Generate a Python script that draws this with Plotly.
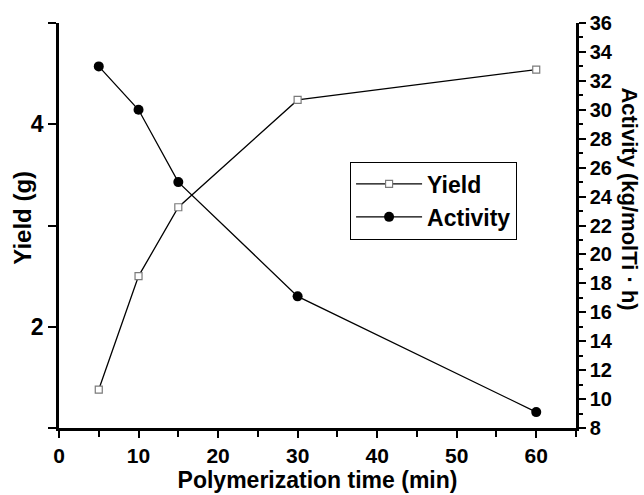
import plotly.graph_objects as go

time_min = [5, 10, 15, 30, 60]
yield_g = [1.38, 2.50, 3.18, 4.24, 4.54]
activity = [33.0, 30.0, 25.0, 17.1, 9.1]

x_ticks = [0, 10, 20, 30, 40, 50, 60]
yield_ticks = [1, 2, 3, 4, 5]
yield_labels = ["", "2", "", "4", ""]
act_ticks = list(range(8, 37, 2))

FONT = "Liberation Sans"

fig = go.Figure()
fig.add_trace(go.Scatter(
    x=time_min, y=yield_g, name="Yield", mode="lines+markers",
    line=dict(color="black", width=1.3),
    marker=dict(symbol="square", size=7, color="white", line=dict(color="#7a7a7a", width=1.2)),
    yaxis="y", xaxis="x"))
fig.add_trace(go.Scatter(
    x=time_min, y=activity, name="Activity", mode="lines+markers",
    line=dict(color="black", width=1.3),
    marker=dict(symbol="circle", size=10, color="black"),
    yaxis="y2", xaxis="x"))

tf = lambda s: dict(family=FONT, size=s, color="black", weight="bold")

fig.update_layout(
    width=644, height=495,
    margin=dict(l=59, r=68, t=16, b=58),
    paper_bgcolor="white", plot_bgcolor="white",
    font=dict(family=FONT, size=18, color="black", weight="bold"),
    showlegend=True,
    legend=dict(x=0.563, y=0.658, xanchor="left", yanchor="top",
                bordercolor="black", borderwidth=1, bgcolor="white",
                font=tf(23), itemwidth=66, tracegroupgap=0),
    xaxis=dict(range=[0, 65], tickvals=x_ticks, ticktext=[str(v) for v in x_ticks],
               ticks="outside", ticklen=7, tickwidth=2, tickcolor="black",
               minor=dict(tickvals=[5, 15, 25, 35, 45, 55, 65], ticks="outside", ticklen=6, tickwidth=2, tickcolor="black"),
               showline=True, linecolor="black", linewidth=2.5, showgrid=False, zeroline=False,
               tickfont=tf(21),
               title=dict(text="Polymerization time (min)", standoff=0, font=tf(23))),
    xaxis2=dict(range=[0, 65], overlaying="x", side="top", anchor="y",
                tickvals=[5, 10, 15, 20, 25, 30, 35, 40, 45, 50, 55, 60],
                ticks="inside", ticklen=5, tickwidth=1.5, tickcolor="black",
                showticklabels=False, showline=True, linecolor="black", linewidth=2.5,
                showgrid=False, zeroline=False),
    yaxis=dict(range=[1, 5], tickvals=yield_ticks, ticktext=yield_labels,
               ticks="outside", ticklen=8, tickwidth=2, tickcolor="black",
               showline=True, linecolor="black", linewidth=2.5, showgrid=False, zeroline=False,
               tickfont=tf(23)),
    yaxis2=dict(range=[8, 36], overlaying="y", side="right", anchor="x",
                tickvals=act_ticks, ticktext=[str(v) for v in act_ticks],
                ticks="outside", ticklen=7, tickwidth=2, tickcolor="black",
                minor=dict(tickvals=list(range(9, 36, 2)), ticks="outside", ticklen=4, tickwidth=1.5, tickcolor="black"),
                showline=True, linecolor="black", linewidth=2.5, showgrid=False, zeroline=False,
                tickfont=tf(20)),
)

fig.add_annotation(
    text="Yield (g)", textangle=-90,
    xref="paper", yref="paper", x=-0.071, y=0.52, xanchor="center", yanchor="middle",
    showarrow=False, font=tf(24))
fig.add_annotation(
    text="Activity (kg/molTi · h)", textangle=90,
    xref="paper", yref="paper", x=1.104, y=0.565, xanchor="center", yanchor="middle",
    showarrow=False, font=tf(22))

fig.write_html("out.html")
